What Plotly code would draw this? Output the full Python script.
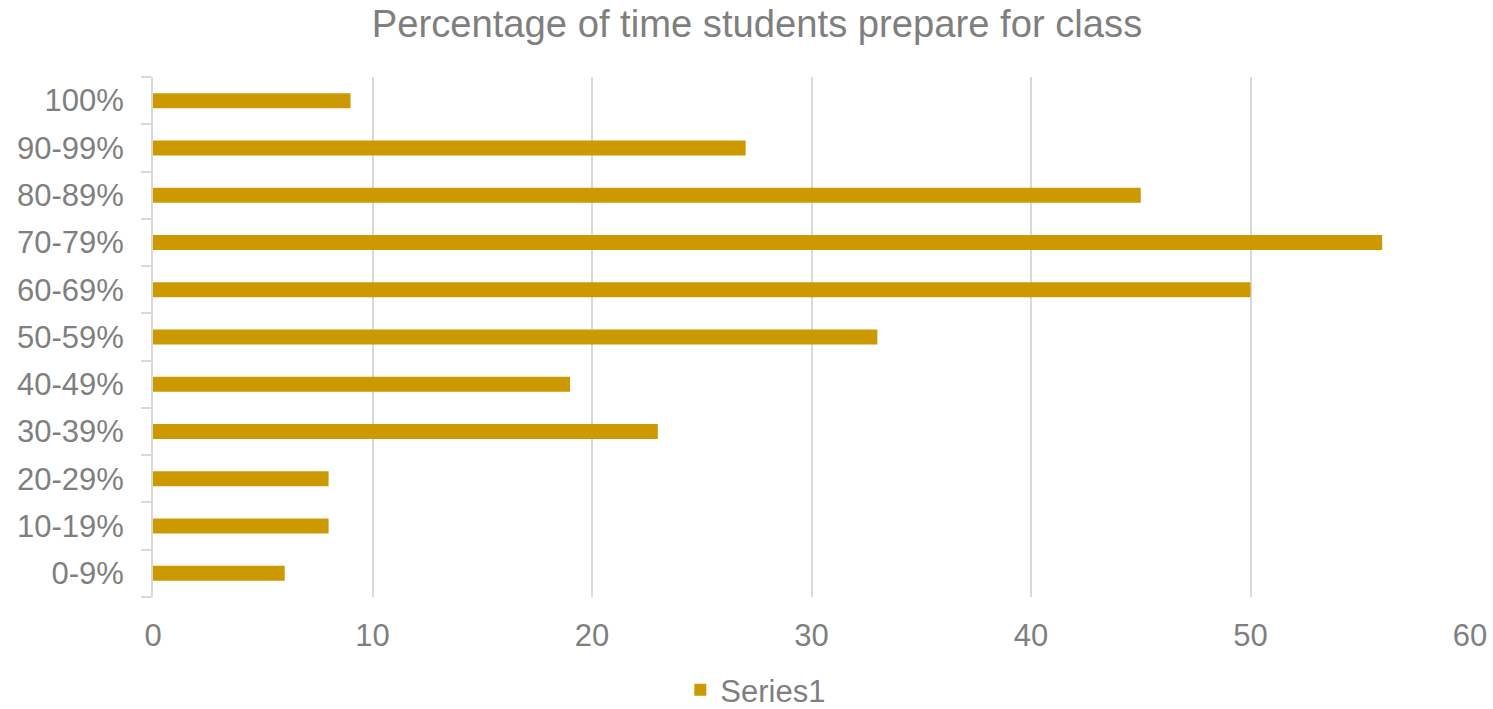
import plotly.graph_objects as go

# Share of class meetings students report preparing for
categories = ["0-9%", "10-19%", "20-29%", "30-39%", "40-49%", "50-59%",
              "60-69%", "70-79%", "80-89%", "90-99%", "100%"]
counts = [6, 8, 8, 23, 19, 33, 50, 56, 45, 27, 9]
x_ticks = [0, 10, 20, 30, 40, 50, 60]

BAR = "#CC9900"
TEXT = "#7f7f7f"
GRID = "#d9d9d9"
FONT = "Liberation Sans, Arial, sans-serif"

fig = go.Figure()
fig.add_trace(go.Bar(
    y=categories, x=counts, orientation="h",
    marker=dict(color=BAR, line=dict(width=0)),
    showlegend=False, name="Series1",
))
# legend entry with a small square swatch
fig.add_trace(go.Scatter(
    x=[None], y=[None], mode="markers", name="Series1",
    marker=dict(symbol="square", size=12, color=BAR),
))

fig.update_layout(
    width=1493, height=709,
    margin=dict(l=153, r=23, t=77, b=112, autoexpand=False),
    paper_bgcolor="white", plot_bgcolor="white",
    font=dict(family=FONT, color=TEXT, size=31),
    title=dict(text="Percentage of time students prepare for class",
               x=757 / 1493, xanchor="center", xref="container",
               y=1 - 24 / 709, yanchor="middle", yref="container",
               font=dict(size=38.2, color=TEXT, family=FONT)),
    bargap=0.683,
    showlegend=True,
    legend=dict(orientation="h", x=0.4577, xanchor="center",
                y=-0.179, yanchor="middle",
                font=dict(size=31, color=TEXT, family=FONT),
                itemwidth=30),
)
fig.update_xaxes(range=[0, 60], tickvals=x_ticks, showgrid=True,
                 gridcolor=GRID, gridwidth=2, zeroline=False,
                 showline=False, ticks="", ticklabelstandoff=17,
                 automargin=False,
                 tickfont=dict(size=31, color=TEXT))
fig.update_yaxes(type="category", categoryorder="array",
                 categoryarray=categories, showgrid=False,
                 showline=True, linecolor=GRID, linewidth=2,
                 ticks="outside", tickson="boundaries", ticklen=10,
                 tickcolor=GRID, tickwidth=2, ticklabelstandoff=21,
                 automargin=False,
                 tickfont=dict(size=31, color=TEXT))

fig.write_html("out.html")
